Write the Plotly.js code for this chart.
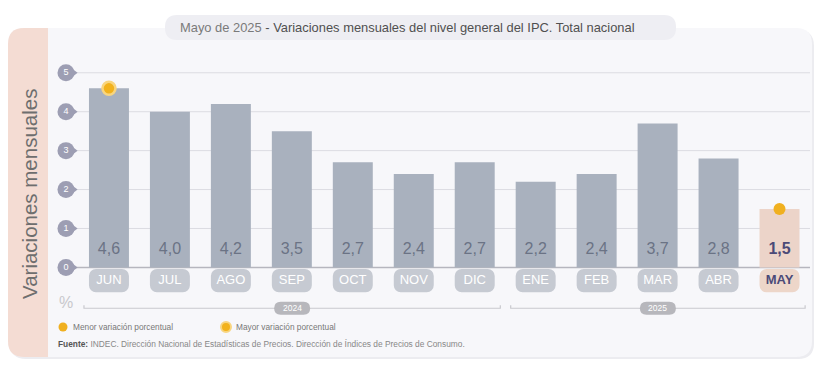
<!DOCTYPE html>
<html><head><meta charset="utf-8">
<script src="https://cdn.plot.ly/plotly-3.0.1.min.js"></script>
<style>html,body{margin:0;padding:0;background:#fff}#chart{width:822px;height:374px}</style>
</head><body><div id="chart"></div><script>
// ---- data ----
const months = ['JUN','JUL','AGO','SEP','OCT','NOV','DIC','ENE','FEB','MAR','ABR','MAY'];
const values = [4.6, 4.0, 4.2, 3.5, 2.7, 2.4, 2.7, 2.2, 2.4, 3.7, 2.8, 1.5];
const yearLabels = ['2024', '2025'];
const yearFirst = [0, 7];
const yearLast = [6, 11];
const yTicks = [0, 1, 2, 3, 4, 5];

// ---- geometry ----
const W = 822, H = 374, mL = 48, mR = 12, mT = 65, mB = 56;
const pw = W - mL - mR, ph = H - mT - mB;
const XMIN = -1.0, XMAX = months.length - 0.5, YMIN = -1.3, YMAX = 5.2;
const px = x => (x - mL) / pw;            // pixel -> paper x
const py = y => (H - mB - y) / ph;        // pixel -> paper y
const dx2p = x => mL + (x - XMIN) / (XMAX - XMIN) * pw;   // data x -> pixel
const dy2p = y => mT + (YMAX - y) / (YMAX - YMIN) * ph;   // data y -> pixel
const FONT = 'Liberation Sans, Arial, sans-serif';

function rr(x0, y0, x1, y1, r, c) {
  c = c || [1,1,1,1];
  const a = r*c[0], b = r*c[1], d = r*c[2], e = r*c[3];
  const X = px, Y = py;
  return `M${X(x0+a)},${Y(y0)} L${X(x1-b)},${Y(y0)} Q${X(x1)},${Y(y0)} ${X(x1)},${Y(y0+b)} ` +
         `L${X(x1)},${Y(y1-d)} Q${X(x1)},${Y(y1)} ${X(x1-d)},${Y(y1)} ` +
         `L${X(x0+e)},${Y(y1)} Q${X(x0)},${Y(y1)} ${X(x0)},${Y(y1-e)} ` +
         `L${X(x0)},${Y(y0+a)} Q${X(x0)},${Y(y0)} ${X(x0+a)},${Y(y0)} Z`;
}

const n = months.length;
const idx = months.map((_, i) => i);
const last = n - 1;
const iMax = values.indexOf(Math.max(...values));
const iMin = values.indexOf(Math.min(...values));
const fmt = v => v.toFixed(1).replace('.', ',');

const barColors = idx.map(i => i === last ? '#ecd4c9' : '#a9b1be');
const tabColors = idx.map(i => i === last ? '#edd6c9' : '#c6cad2');
const valTxt = idx.map(i => i === last ? '<b>' + fmt(values[i]) + '</b>' : fmt(values[i]));
const valCol = idx.map(i => i === last ? '#4b4a78' : '#6b7385');
const monTxt = idx.map(i => i === last ? '<b>' + months[i] + '</b>' : months[i]);
const monCol = idx.map(i => i === last ? '#4b4a78' : '#ffffff');

const BW = 0.656;
const TX = -0.705;   // tick bubble position (x units)
const traces = [
  { type: 'bar', x: idx, y: values, width: BW, marker: { color: barColors },
    hoverinfo: 'skip', showlegend: false },
  { type: 'bar', x: idx, y: idx.map(() => -0.6), base: -0.04, width: BW,
    marker: { color: tabColors, cornerradius: 7 }, hoverinfo: 'skip', showlegend: false },
  { type: 'scatter', mode: 'text', x: idx, y: idx.map(() => 0.46), text: valTxt,
    textfont: { family: FONT, size: 16, color: valCol },
    textposition: 'middle center', hoverinfo: 'skip', showlegend: false, cliponaxis: false },
  { type: 'scatter', mode: 'text', x: idx, y: idx.map(() => -0.35), text: monTxt,
    textfont: { family: FONT, size: 13, color: monCol },
    textposition: 'middle center', hoverinfo: 'skip', showlegend: false, cliponaxis: false },
  { type: 'scatter', mode: 'markers', x: [iMax], y: [values[iMax]],
    marker: { size: 13, color: '#f2b21c', line: { color: '#f8d57f', width: 2.5 } },
    hoverinfo: 'skip', showlegend: false, cliponaxis: false },
  { type: 'scatter', mode: 'markers', x: [iMin], y: [values[iMin]],
    marker: { size: 12, color: '#f0b020' }, hoverinfo: 'skip', showlegend: false, cliponaxis: false },
  // y tick bubbles
  { type: 'scatter', mode: 'markers', x: yTicks.map(() => TX + 0.1), y: yTicks,
    marker: { symbol: 'triangle-right', size: 11, color: '#9d9eb3' },
    hoverinfo: 'skip', showlegend: false, cliponaxis: false },
  { type: 'scatter', mode: 'markers+text', x: yTicks.map(() => TX), y: yTicks,
    text: yTicks.map(String), textposition: 'middle center',
    textfont: { family: FONT, size: 9, color: '#ffffff' },
    marker: { symbol: 'circle', size: 17, color: '#9d9eb3' },
    hoverinfo: 'skip', showlegend: false, cliponaxis: false }
];

const shapes = [
  // card
  { type: 'path', xref: 'paper', yref: 'paper', layer: 'below', path: rr(10, 30, 814, 359, 16), fillcolor: '#ececf0', line: { width: 0 } },
  { type: 'path', xref: 'paper', yref: 'paper', layer: 'below', path: rr(8, 28, 812, 357, 16), fillcolor: '#f7f7fa', line: { width: 0 } },
  { type: 'path', xref: 'paper', yref: 'paper', layer: 'below', path: rr(8, 28, 48, 357, 16, [1,0,0,1]), fillcolor: '#f4dcd3', line: { width: 0 } },
  // title pill
  { type: 'path', xref: 'paper', yref: 'paper', layer: 'below', path: rr(165, 15, 676, 40, 12), fillcolor: '#eeeef3', line: { width: 0 } }
];

// grid lines (start just right of the tick bubbles)
yTicks.forEach(t => {
  shapes.push({ type: 'line', xref: 'x', yref: 'y', layer: 'below', x0: TX + 0.15, x1: XMAX, y0: t, y1: t,
    line: { color: t === 0 ? '#b6b6be' : '#dcdce2', width: t === 0 ? 1.5 : 1 } });
});

const A = (o) => Object.assign({ xref: 'paper', yref: 'paper', showarrow: false, xanchor: 'left', yanchor: 'middle' }, o);
const annotations = [
  A({ x: px(407), y: py(28), xanchor: 'center',
    text: '<span style="color:#7a7a7a">Mayo de 2025</span> - Variaciones mensuales del nivel general del IPC. Total nacional',
    font: { family: FONT, size: 12.9, color: '#505050' } }),
  A({ x: px(30), y: py(194), textangle: -90, xanchor: 'center', text: 'Variaciones mensuales',
    font: { family: FONT, size: 20.5, color: '#6e6e6e' } }),
  A({ x: px(66), y: py(302), xanchor: 'center', text: '%',
    font: { family: FONT, size: 16, color: '#c8c8cc' } }),
  A({ x: px(71), y: py(327), text: 'Menor variación porcentual', font: { family: FONT, size: 8.3, color: '#777' } }),
  A({ x: px(234), y: py(327), text: 'Mayor variación porcentual', font: { family: FONT, size: 8.3, color: '#777' } }),
  A({ x: px(56), y: py(344),
    text: '<b style="color:#555">Fuente:</b> INDEC. Dirección Nacional de Estadísticas de Precios. Dirección de Índices de Precios de Consumo.',
    font: { family: FONT, size: 8.35, color: '#888' } })
];

// legend symbols
shapes.push({ type: 'circle', xref: 'paper', yref: 'paper', x0: px(58.5), x1: px(67.5), y0: py(331.5), y1: py(322.5), fillcolor: '#f0b020', line: { width: 0 } });
shapes.push({ type: 'circle', xref: 'paper', yref: 'paper', x0: px(221), x1: px(231), y0: py(332), y1: py(322), fillcolor: '#f2b21c', line: { color: '#f8d57f', width: 2 } });

// year brackets
const BY = -1.05;
yearLabels.forEach((lab, k) => {
  const x0 = yearFirst[k] - 0.41, x1 = yearLast[k] + 0.42;
  shapes.push({ type: 'path', xref: 'x', yref: 'y', layer: 'above',
    path: `M${x0},${BY + 0.08} L${x0},${BY} L${x1},${BY} L${x1},${BY + 0.08}`,
    line: { color: '#c9c9ce', width: 1.2 } });
  const cx = (x0 + x1) / 2;
  const cpx = dx2p(cx), cpy = dy2p(BY);
  shapes.push({ type: 'path', xref: 'paper', yref: 'paper', layer: 'above',
    path: rr(cpx - 18, cpy - 6.5, cpx + 18, cpy + 6.5, 6.5), fillcolor: '#b7b7bc', line: { width: 0 } });
  annotations.push({ xref: 'x', yref: 'y', x: cx, y: BY, showarrow: false, text: lab,
    xanchor: 'center', yanchor: 'middle',
    font: { family: FONT, size: 8.5, color: '#ffffff' } });
});

const layout = {
  width: W, height: H, margin: { l: mL, r: mR, t: mT, b: mB },
  paper_bgcolor: '#ffffff', plot_bgcolor: 'rgba(0,0,0,0)',
  barmode: 'overlay', showlegend: false,
  xaxis: { range: [XMIN, XMAX], showgrid: false, zeroline: false, showticklabels: false, ticks: '', fixedrange: true },
  yaxis: { range: [YMIN, YMAX], showgrid: false, showticklabels: false, ticks: '', zeroline: false, fixedrange: true },
  shapes: shapes, annotations: annotations,
  font: { family: FONT }
};

Plotly.newPlot('chart', traces, layout, { displayModeBar: false, staticPlot: true });
</script></body></html>
